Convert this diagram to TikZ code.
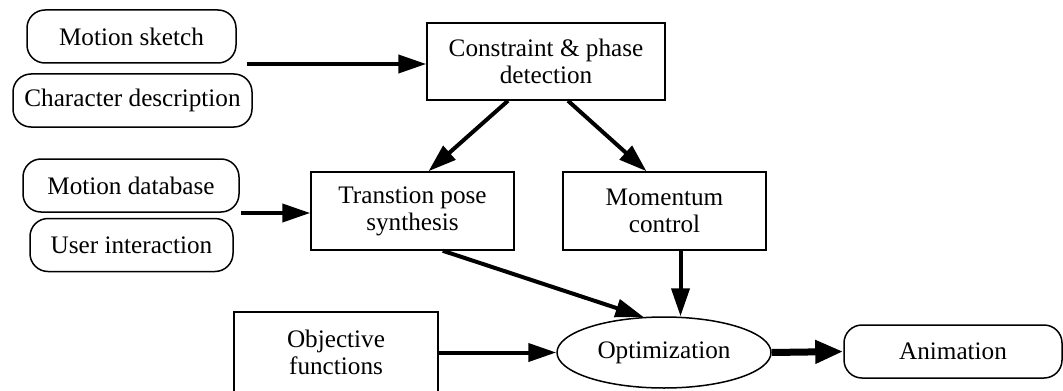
\documentclass[tikz,border=0pt]{standalone}
\usepackage{fontspec}
\setmainfont{Liberation Serif}
\usetikzlibrary{arrows.meta,shapes.geometric}
\begin{document}
\begin{tikzpicture}[x=0.5pt,y=-0.5pt,
  every node/.style={font=\fontsize{12.6}{13.6}\selectfont, inner sep=0pt, align=center},
  rbox/.style={draw, line width=0.75pt, rounded corners=9pt, minimum height=26.5pt},
  sbox/.style={draw, line width=0.75pt, minimum width=101.5pt, minimum height=39pt},
  ebox/.style={draw, line width=0.75pt, ellipse, minimum width=107pt, minimum height=35.5pt},
  arr/.style={line width=2pt, -{Triangle[length=14pt,width=9pt]}},
  thickarr/.style={line width=3.5pt, -{Triangle[length=14pt,width=11pt]}}
]
\useasboundingbox (0,0) rectangle (1063,390);
\node[rbox, minimum width=104.5pt] (ms) at (131.5,36.5) {Motion sketch};
\node[rbox, minimum width=119.5pt] (cd) at (132.5,100.5) {Character description};
\node[rbox, minimum width=108pt] (md) at (131,185.5) {Motion database};
\node[rbox, minimum width=101.5pt] (ui) at (131.5,245) {User interaction};
\node[sbox, minimum width=119pt, minimum height=38.5pt] (cp) at (546,61.5) {Constraint \& phase\\detection};
\node[sbox] (tp) at (412.5,211) {Transtion pose\\synthesis};
\node[sbox] (mc) at (664.5,211) {Momentum\\control};
\node[sbox, minimum width=102pt, minimum height=40pt] (of) at (336,352) {Objective\\functions};
\node[ebox] (op) at (664,352.5) {Optimization};
\node[rbox, minimum width=109pt] (an) at (953,351.5) {Animation};

\coordinate (in1) at (247,64);
\coordinate (in2) at (241,213);
\coordinate (mcb) at ([xshift=8pt]mc.south);

\draw[arr] (in1) -- (cp.west |- in1);
\draw[arr] (in2) -- (tp.west |- in2);
\draw[arr] ([xshift=-19pt]cp.south) -- ([xshift=8pt]tp.north);
\draw[arr] ([xshift=11pt]cp.south) -- ([xshift=-9pt]mc.north);
\draw[arr] ([xshift=-36pt]tp.south east) -- (op.120);
\draw[arr] (mcb) -- (mcb |- op.north);
\draw[arr] (of.east |- op.west) -- (op.west);
\draw[thickarr] (op.east) -- (an.west);
\end{tikzpicture}
\end{document}
